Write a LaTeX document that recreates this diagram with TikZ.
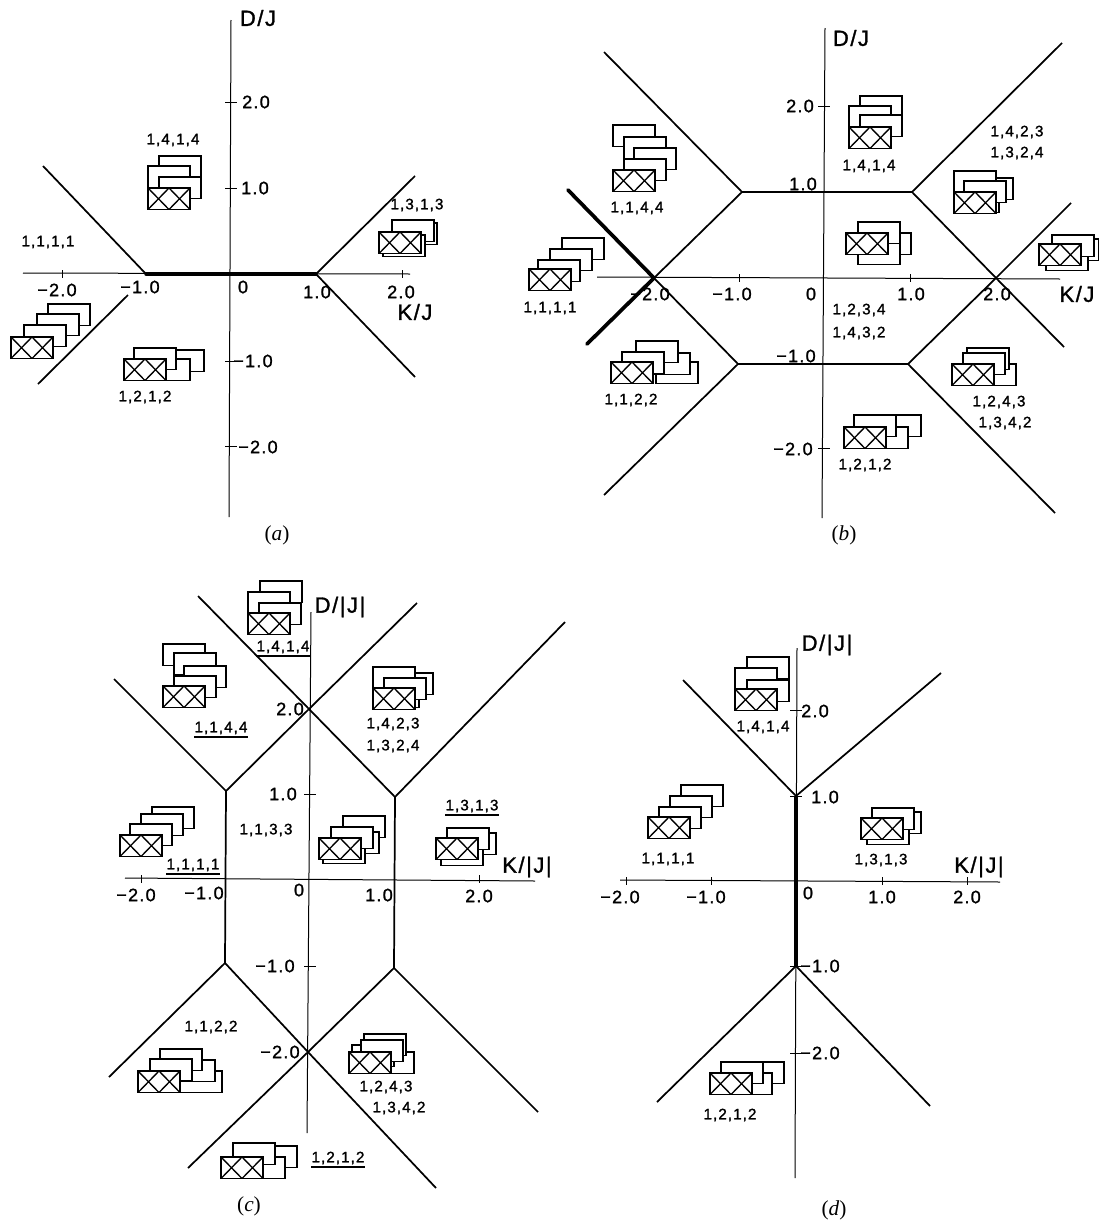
\documentclass[tikz,border=0pt]{standalone}
\usepackage{fontspec}
\setmainfont[LetterSpace=7,FakeBold=1.4]{Liberation Sans}
\newfontfamily\capfont{Liberation Serif}
\usepackage{tikz}

\tikzset{
  axisline/.style={line width=0.75pt},
  phaseline/.style={line width=1.3pt},
  heavyline/.style={line width=2.8pt,line cap=round},
  cellbox/.style={line width=1.3pt,fill=white},
  lab/.style={inner sep=0pt,font=\fontsize{11.4}{11.4}\selectfont},
  ticklab/.style={inner sep=0pt,font=\fontsize{13.5}{13.5}\selectfont},
  axlab/.style={inner sep=0pt,font=\fontsize{16.5}{16.5}\selectfont},
  caplab/.style={inner sep=0pt,font=\capfont\fontsize{16}{16}\selectfont},
}
% #1,#2 = corner of the crossed cell, #3 = cells behind it, back to front
\newcommand{\cellstack}[3]{
  \foreach \dx/\dy in {#3}
    \draw[cellbox] (#1+\dx,#2+\dy) rectangle ++(42,21.5);
  \draw[cellbox] (#1,#2) rectangle ++(42,21.5);
  \draw[line width=1pt] (#1,#2) -- ++(21,21.5) ++(0,-21.5) -- ++(-21,21.5);
  \draw[line width=1pt] (#1+21,#2) -- ++(21,21.5) ++(0,-21.5) -- ++(-21,21.5);
}
% #1 = x tick positions, #2 = y tick positions, #3 = axis height, #4 = axis x
\newcommand{\axisticks}[4]{
  \foreach \tx in {#1} \draw[axisline] (\tx,#3-4) -- (\tx,#3+4);
  \foreach \ty in {#2} \draw[axisline] (#4-6,\ty) -- (#4+6,\ty);
}

\begin{document}
\begin{tikzpicture}[x=0.75pt,y=-0.75pt]
\useasboundingbox (0,0) rectangle (1099,1221);

% (a)
\coordinate (aL) at (146,274);
\coordinate (aR) at (316,274);
\coordinate (aW) at (23,273);
\coordinate (aE) at (410,274);
\coordinate (aN) at (231,20);
\coordinate (aS) at (229,517);
\draw[axisline] (aW) -- (aE);
\draw[axisline] (aN) -- (aS);
\axisticks{62,402}{102,188,361,446}{274}{231}
\draw[heavyline,line width=2.6pt] (aL) -- (aR);
\draw[phaseline] (43,166) -- (aL);
\draw[phaseline] (128,295) -- (38,384);
\draw[phaseline] (aR) -- (415,176);
\draw[phaseline] (aR) -- (415,377);
\cellstack{148}{188}{11/-32,0/-22,11/-11}
\cellstack{379}{232}{16/-9,13/-12,4/3}
\cellstack{11}{337}{37/-33,26/-23,13/-12}
\cellstack{124}{359}{38/-9,24/0,10/-11}
\node[axlab] (aDJ) at (258,18) {D/J};
\node[axlab] (aKJ) at (415,312) {K/J};
\node[ticklab] (ax2m) at (57,290) {−2.0};
\node[ticklab] (ax1m) at (140,287) {−1.0};
\node[ticklab] (ax0) at (243,287) {0};
\node[ticklab] (ax1) at (317,292) {1.0};
\node[ticklab] (ax2) at (401,292) {2.0};
\node[ticklab] (ay2) at (256,102) {2.0};
\node[ticklab] (ay1) at (255,188) {1.0};
\node[ticklab] (ay1m) at (253,361) {−1.0};
\node[ticklab] (ay2m) at (258,447) {−2.0};
\node[lab] (a1414) at (173,140) {1,4,1,4};
\node[lab] (a1313) at (417,205) {1,3,1,3};
\node[lab] (a1111) at (48,242) {1,1,1,1};
\node[lab] (a1212) at (145,397) {1,2,1,2};
\node[caplab] (acap) at (277,535) {(\textit{a})};

% (b)
\coordinate (bA) at (742,192);
\coordinate (bB) at (912,192);
\coordinate (bC) at (654,278);
\coordinate (bD) at (996,278);
\coordinate (bE) at (738,364);
\coordinate (bF) at (908,364);
\coordinate (bW) at (597,277);
\coordinate (bO) at (1060,279);
\coordinate (bN) at (825,28);
\coordinate (bS) at (822,518);
\draw[axisline] (bW) -- (bO);
\draw[axisline] (bN) -- (bS);
\axisticks{739,910}{106,448}{278}{824}
\draw[heavyline] (568,190) -- (bC);
\draw[heavyline] (587,344) -- (bC);
\draw[phaseline] (604,52) -- (bA) -- (bB) -- (1062,43);
\draw[phaseline] (bC) -- (bA);
\draw[phaseline] (bB) -- (bD) -- (1064,347);
\draw[phaseline] (bD) -- (1071,203);
\draw[phaseline] (bD) -- (bF) -- (bE) -- (bC);
\draw[phaseline] (bE) -- (604,495);
\draw[phaseline] (bF) -- (1055,513);
\cellstack{613}{170}{0/-45,11/-33,21/-22,11/-11}
\cellstack{529}{269}{33/-31,21/-20,9/-9}
\cellstack{611}{362}{45/0,37/-9,25/-21,11/-10}
\cellstack{849}{127}{11/-31,0/-21,11/-12}
\cellstack{954}{192}{17/-14,3/-1,0/-21,10/-11}
\cellstack{846}{233}{23/0,12/10,12/-11}
\cellstack{1039}{244}{18/-5,7/5,13/-9}
\cellstack{952}{364}{22/0,15/-16,11/-11}
\cellstack{844}{427}{35/-12,22/0,10/-12}
\node[axlab] (bDJ) at (851,38) {D/J};
\node[axlab] (bKJ) at (1077,294) {K/J};
\node[ticklab] (bx2m) at (650,294) {−2.0};
\node[ticklab] (bx1m) at (732,294) {−1.0};
\node[ticklab] (bx0) at (811,294) {0};
\node[ticklab] (bx1) at (911,294) {1.0};
\node[ticklab] (bx2) at (997,294) {2.0};
\node[ticklab] (by2) at (800,106) {2.0};
\node[ticklab] (by1) at (803,184) {1.0};
\node[ticklab] (by1m) at (796,356) {−1.0};
\node[ticklab] (by2m) at (793,449) {−2.0};
\node[lab] (b1414) at (869,166) {1,4,1,4};
\node[lab] (b1423) at (1017,132) {1,4,2,3};
\node[lab] (b1324) at (1017,153) {1,3,2,4};
\node[lab] (b1144) at (637,208) {1,1,4,4};
\node[lab] (b1111) at (550,308) {1,1,1,1};
\node[lab] (b1234) at (859,310) {1,2,3,4};
\node[lab] (b1432) at (859,333) {1,4,3,2};
\node[lab] (b1122) at (631,400) {1,1,2,2};
\node[lab] (b1243) at (999,402) {1,2,4,3};
\node[lab] (b1342) at (1005,423) {1,3,4,2};
\node[lab] (b1212) at (865,465) {1,2,1,2};
\node[caplab] (bcap) at (844,535) {(\textit{b})};

% (c)
\coordinate (cT) at (309,709);
\coordinate (cL) at (226,791);
\coordinate (cR) at (395,797);
\coordinate (cM) at (225,963);
\coordinate (cP) at (394,968);
\coordinate (cB) at (308,1052);
\coordinate (cW) at (125,878);
\coordinate (cE) at (535,881);
\coordinate (cN) at (311,612);
\coordinate (cS) at (307,1133);
\draw[axisline] (cW) -- (cE);
\draw[axisline] (cN) -- (cS);
\axisticks{141,479}{794,966}{879}{310}
\draw[phaseline] (114,679) -- (cL) -- (cT) -- (417,603);
\draw[phaseline] (198,596) -- (cT) -- (cR) -- (565,622);
\draw[phaseline] (cL) -- (cM);
\draw[phaseline] (cR) -- (cP);
\draw[phaseline] (109,1077) -- (cM) -- (cB) -- (436,1188);
\draw[phaseline] (188,1168) -- (cB) -- (cP) -- (538,1112);
\cellstack{248}{613}{12/-32,0/-21,11/-10}
\cellstack{163}{686}{0/-42,11/-33,21/-20,11/-10}
\cellstack{373}{688}{18/-15,4/-2,0/-21,11/-10}
\cellstack{120}{835}{32/-28,21/-21,10/-11}
\cellstack{319}{838}{24/-22,18/-6,4/4,12/-11}
\cellstack{436}{838}{18/-5,5/6,11/-10}
\cellstack{138}{1071}{42/0,35/-11,22/-22,12/-12}
\cellstack{349}{1052}{23/0,3/-7,15/-18,12/-12}
\cellstack{221}{1157}{34/-11,22/0,12/-14}
\node[axlab] (cDJ) at (340,607) {D/|J|};
\node[axlab] (cKJ) at (527,867) {K/|J|};
\node[ticklab] (cx2m) at (136,895) {−2.0};
\node[ticklab] (cx1m) at (204,893) {−1.0};
\node[ticklab] (cx0) at (299,890) {0};
\node[ticklab] (cx1) at (379,895) {1.0};
\node[ticklab] (cx2) at (479,896) {2.0};
\node[ticklab] (cy2) at (290,709) {2.0};
\node[ticklab] (cy1) at (283,794) {1.0};
\node[ticklab] (cy1m) at (275,966) {−1.0};
\node[ticklab] (cy2m) at (280,1052) {−2.0};
\node[lab] (c1414) at (283,647) {1,4,1,4};
\node[lab] (c1144) at (221,728) {1,1,4,4};
\node[lab] (c1423) at (393,724) {1,4,2,3};
\node[lab] (c1324) at (393,746) {1,3,2,4};
\node[lab] (c1313) at (472,806) {1,3,1,3};
\node[lab] (c1133) at (266,830) {1,1,3,3};
\node[lab] (c1111) at (193,865) {1,1,1,1};
\node[lab] (c1122) at (211,1027) {1,1,2,2};
\node[lab] (c1243) at (386,1087) {1,2,4,3};
\node[lab] (c1342) at (399,1108) {1,3,4,2};
\node[lab] (c1212) at (338,1158) {1,2,1,2};
\node[caplab] (ccap) at (249,1206) {(\textit{c})};
\foreach \ulab in {c1414,c1144,c1313,c1111,c1212}
  \draw[line width=1.2pt] ([yshift=-2pt]\ulab.south west) -- ([yshift=-2pt]\ulab.south east);

% (d)
\coordinate (dT) at (796,796);
\coordinate (dB) at (796,966);
\coordinate (dW) at (620,880);
\coordinate (dE) at (1000,882);
\coordinate (dN) at (797,648);
\coordinate (dS) at (795,1178);
\draw[axisline] (dW) -- (dE);
\draw[axisline] (dN) -- (dS);
\axisticks{626,711,882,967}{710,796,966,1053}{881}{796}
\draw[heavyline,line cap=butt] (dT) -- (dB);
\draw[phaseline] (683,680) -- (dT) -- (941,673);
\draw[phaseline] (657,1102) -- (dB) -- (930,1106);
\cellstack{735}{689}{12/-32,0/-21,12/-9}
\cellstack{648}{817}{33/-32,22/-21,11/-10}
\cellstack{861}{818}{18/-6,6/5,11/-10}
\cellstack{710}{1073}{32/-11,20/0,11/-11}
\node[axlab] (dDJ) at (827,645) {D/|J|};
\node[axlab] (dKJ) at (979,867) {K/|J|};
\node[ticklab] (dx2m) at (620,897) {−2.0};
\node[ticklab] (dx1m) at (706,897) {−1.0};
\node[ticklab] (dx0) at (808,893) {0};
\node[ticklab] (dx1) at (882,897) {1.0};
\node[ticklab] (dx2) at (967,897) {2.0};
\node[ticklab] (dy2) at (815,711) {2.0};
\node[ticklab] (dy1) at (825,797) {1.0};
\node[ticklab] (dy1m) at (820,966) {−1.0};
\node[ticklab] (dy2m) at (820,1053) {−2.0};
\node[lab] (d1414) at (763,727) {1,4,1,4};
\node[lab] (d1111) at (668,859) {1,1,1,1};
\node[lab] (d1313) at (881,860) {1,3,1,3};
\node[lab] (d1212) at (730,1115) {1,2,1,2};
\node[caplab] (dcap) at (834,1210) {(\textit{d})};
\end{tikzpicture}
\end{document}
